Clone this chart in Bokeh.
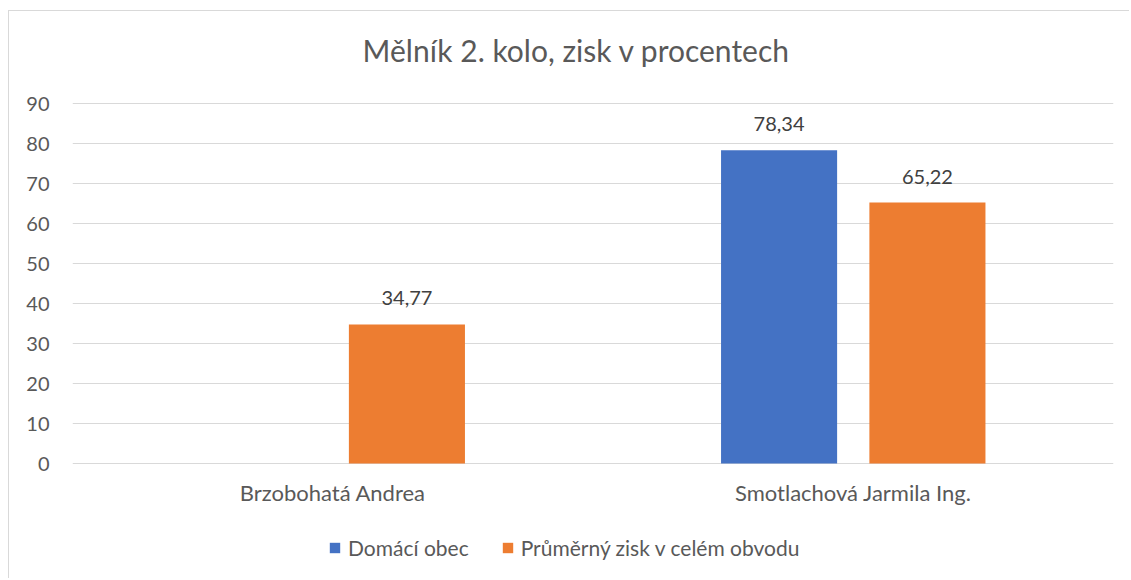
import math
from bokeh.plotting import figure
from bokeh.models import ColumnDataSource, FactorRange, Range1d, FixedTicker, LabelSet, Label, Legend, LegendItem
from bokeh.transform import dodge
from bokeh.core.properties import value
from bokeh.embed import file_html
from bokeh.resources import INLINE

# ---- data ----
title_text = "Mělník 2. kolo, zisk v procentech"
categories = ["Brzobohatá Andrea", "Smotlachová Jarmila Ing."]
series_names = ["Domácí obec", "Průměrný zisk v celém obvodu"]
domaci_obec = [float("nan"), 78.34]
prumerny_zisk = [34.77, 65.22]
y_ticks = [0, 10, 20, 30, 40, 50, 60, 70, 80, 90]

BLUE = "#4472C4"
ORANGE = "#ED7D31"
TEXT = "#595959"
GRID = "#D9D9D9"
FONT = "Lato"

def fmt(v):
    return f"{v:.2f}".replace(".", ",")

src = ColumnDataSource(dict(cat=categories, dom=domaci_obec, pru=prumerny_zisk))

# the frame spans the full canvas height (4 px per unit); title, axis labels and legend live inside it
p = figure(
    x_range=FactorRange(*categories),
    y_range=Range1d(-29, 113),
    width=1121, height=568,
    min_border_left=63, min_border_right=17, min_border_top=0, min_border_bottom=0,
    output_backend="svg", toolbar_location=None,
)
p.styles = {"margin-left": "9px", "margin-top": "11px",
            "box-shadow": f"-1px -1px 0 0 {GRID}"}

off = 0.1425
w = 0.223
r1 = p.vbar(x=dodge("cat", -off, range=p.x_range), top="dom", bottom=0, width=w, source=src,
            fill_color=BLUE, line_color=None)
r2 = p.vbar(x=dodge("cat", off, range=p.x_range), top="pru", bottom=0, width=w, source=src,
            fill_color=ORANGE, line_color=None)

# data labels
for col, o in (("dom", -off), ("pru", off)):
    vals = src.data[col]
    cats = [c for c, v in zip(categories, vals) if not math.isnan(v)]
    tops = [v for v in vals if not math.isnan(v)]
    lsrc = ColumnDataSource(dict(cat=cats, top=tops, txt=[fmt(v) for v in tops]))
    p.add_layout(LabelSet(x=dodge("cat", o, range=p.x_range), y="top", text="txt", source=lsrc,
                          text_align="center", text_baseline="alphabetic", y_offset=19,
                          text_font=value(FONT), text_font_size="20px", text_color="#404040"))

# category labels (x axis)
csrc = ColumnDataSource(dict(cat=categories, y=[0] * len(categories)))
p.add_layout(LabelSet(x="cat", y="y", text="cat", source=csrc,
                      text_align="center", text_baseline="alphabetic", y_offset=-37,
                      text_font=value(FONT), text_font_size="22px", text_color=TEXT))
p.xaxis.visible = False

# title (screen units measured from the frame's bottom-left)
p.add_layout(Label(x=504, y=530, x_units="screen", y_units="screen", text=title_text,
                   text_align="center", text_baseline="middle",
                   text_font=FONT, text_font_size="30px", text_color=TEXT))

# y axis
p.yaxis.ticker = FixedTicker(ticks=y_ticks)
ax = p.yaxis[0]
ax.axis_line_color = None
ax.major_tick_line_color = None
ax.minor_tick_line_color = None
ax.major_tick_out = 0
ax.major_tick_in = 0
ax.major_label_text_font = FONT
ax.major_label_text_color = TEXT
ax.major_label_text_font_size = "20px"
ax.major_label_standoff = 23

p.xgrid.grid_line_color = None
p.ygrid.grid_line_color = GRID
p.ygrid.grid_line_width = 1
p.outline_line_color = None

legend = Legend(items=[LegendItem(label=series_names[0], renderers=[r1]),
                       LegendItem(label=series_names[1], renderers=[r2])],
                orientation="horizontal", location=(256, 19),
                padding=0, margin=0, spacing=32, label_standoff=7,
                glyph_width=13, glyph_height=13, label_height=20,
                label_text_font=FONT, label_text_font_size="21px", label_text_color=TEXT,
                border_line_color=None, background_fill_alpha=0)
p.add_layout(legend, "center")

open("out.html", "w").write(file_html(p, INLINE))
